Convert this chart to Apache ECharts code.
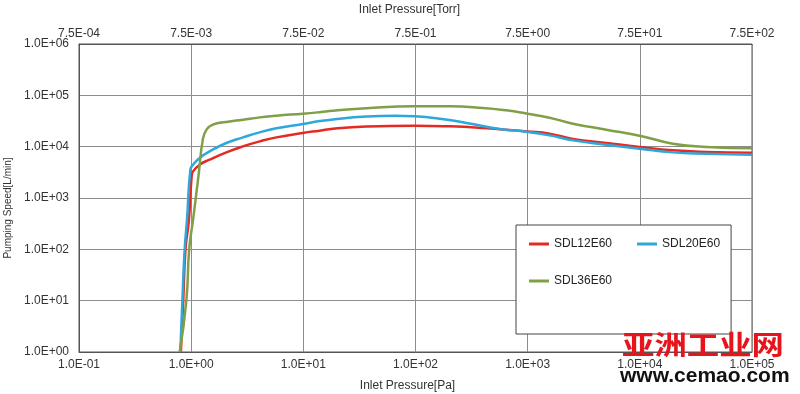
<!DOCTYPE html>
<html>
<head>
<meta charset="utf-8">
<script src="https://cdn.jsdelivr.net/npm/echarts@6/dist/echarts.min.js"></script>
<style>
  html, body { margin: 0; padding: 0; background: #fff; }
  #chart { width: 800px; height: 394px; }
</style>
</head>
<body>
<div id="chart"></div>
<script>
// ---- Data ----
const seriesNames = ['SDL12E60', 'SDL20E60', 'SDL36E60'];

const pressureRed = [0.81, 0.85, 0.89, 0.955, 1.01, 1.04, 1.19, 1.46, 2.06, 2.9, 4.08, 5.75, 9.9, 14, 18.4, 36.4, 98, 201, 399, 645, 993, 1567, 2529, 5012, 9930, 19680, 39080, 100000];
const speedRed    = [1, 10, 100, 378, 2640, 3300, 4460, 5580, 7740, 10140, 12690, 15170, 18500, 20500, 22300, 24600, 25650, 24900, 23200, 21430, 19800, 17900, 14130, 11800, 9870, 8470, 7890, 7640];

const pressureBlue = [0.8, 0.835, 0.875, 0.918, 0.984, 1.04, 1.19, 1.46, 2.06, 2.9, 4.08, 5.75, 9.9, 14, 18.4, 36.4, 65, 98, 164, 284, 562, 991, 1567, 2529, 5012, 9930, 19680, 39080, 100000];
const speedBlue    = [1, 10, 100, 378, 3565, 4460, 6025, 8100, 11800, 15170, 19000, 22750, 27660, 31500, 34000, 38500, 40000, 39000, 35000, 29000, 22100, 19400, 16600, 13270, 10940, 9140, 7740, 7310, 6980];

const pressureGreen = [0.79, 0.906, 0.96, 1.04, 1.17, 1.27, 1.37, 1.56, 2.06, 2.9, 4.08, 5.75, 9.9, 14, 18.4, 36.4, 98, 201, 399, 645, 993, 1567, 2529, 5012, 9930, 19680, 39080, 100000];
const speedGreen    = [1, 10, 100, 378, 3070, 13700, 21430, 26850, 30300, 33570, 37220, 40200, 43950, 47000, 50000, 56000, 61000, 61000, 56800, 51000, 43950, 36700, 28070, 21430, 16370, 11430, 9870, 9350];

const paTickLabels   = ['1.0E-01', '1.0E+00', '1.0E+01', '1.0E+02', '1.0E+03', '1.0E+04', '1.0E+05'];
const torrTickLabels = ['7.5E-04', '7.5E-03', '7.5E-02', '7.5E-01', '7.5E+00', '7.5E+01', '7.5E+02'];
const speedTickLabels = ['1.0E+00', '1.0E+01', '1.0E+02', '1.0E+03', '1.0E+04', '1.0E+05', '1.0E+06'];

const colors = ['#e42a22', '#2ea8dc', '#7fa046'];

// ---- Chart ----
function pairs(xs, ys) { return xs.map((x, i) => [x, ys[i]]); }
function decade(v) { return Math.round(Math.log10(v)); }

const chart = echarts.init(document.getElementById('chart'), null, { renderer: 'canvas' });
const font = 'Liberation Sans, Arial, sans-serif';
const gridColor = '#8c8c8c';

const option = {
  animation: false,
  backgroundColor: '#fff',
  textStyle: { fontFamily: font },
  grid: { left: 79, right: 48, top: 44, bottom: 42, show: true, borderColor: '#555', borderWidth: 1, containLabel: false, outerBoundsMode: 'none' },
  legend: {
    data: seriesNames,
    left: 516, top: 225, width: 200,
    orient: 'horizontal',
    padding: [13, 11, 47, 13],
    itemGap: 25,
    itemWidth: 20, itemHeight: 3,
    icon: 'rect',
    backgroundColor: '#fff',
    borderColor: '#444', borderWidth: 1,
    textStyle: { fontSize: 12, color: '#222', fontFamily: font }
  },
  xAxis: [
    {
      type: 'log', logBase: 10, min: 0.1, max: 100000, interval: 1,
      position: 'bottom',
      name: 'Inlet Pressure[Pa]', nameLocation: 'middle', nameGap: 28,
      nameTextStyle: { fontSize: 12, color: '#333', padding: [0, 16, 0, 0] },
      axisLine: { show: true, lineStyle: { color: '#555', width: 1 } },
      axisTick: { show: false },
      axisLabel: { fontSize: 12, color: '#333', margin: 7, formatter: v => paTickLabels[decade(v) + 1] },
      splitLine: { show: true, lineStyle: { color: gridColor, width: 1 } },
      minorTick: { show: false }
    },
    {
      type: 'log', logBase: 10, min: 0.1, max: 100000, interval: 1,
      position: 'top',
      name: 'Inlet Pressure[Torr]', nameLocation: 'middle', nameGap: 28,
      nameTextStyle: { fontSize: 12, color: '#333', padding: [0, 12, 0, 0] },
      axisLine: { show: true, lineStyle: { color: '#555', width: 1 } },
      axisTick: { show: false },
      axisLabel: { fontSize: 12, color: '#333', margin: 4, formatter: v => torrTickLabels[decade(v) + 1] },
      splitLine: { show: false }
    }
  ],
  yAxis: {
    type: 'log', logBase: 10, min: 1, max: 1000000, interval: 1,
    name: 'Pumping Speed[L/min]', nameLocation: 'middle', nameGap: 62, nameRotate: 90,
    nameTextStyle: { fontSize: 10, color: '#333', padding: [0, 20, 0, 0] },
    axisLine: { show: true, lineStyle: { color: '#555', width: 1 } },
    axisTick: { show: false },
    axisLabel: { fontSize: 12, color: '#333', margin: 10, formatter: v => speedTickLabels[decade(v)] },
    splitLine: { show: true, lineStyle: { color: gridColor, width: 1 } }
  },
  series: [
    { name: seriesNames[0], type: 'line', data: pairs(pressureRed, speedRed) },
    { name: seriesNames[1], type: 'line', data: pairs(pressureBlue, speedBlue) },
    { name: seriesNames[2], type: 'line', data: pairs(pressureGreen, speedGreen) }
  ].map((s, i) => Object.assign(s, {
    xAxisIndex: 0, yAxisIndex: 0,
    smooth: 0.5,
    showSymbol: false, symbol: 'none',
    color: colors[i],
    lineStyle: { width: 2.5, color: colors[i] }
  })),
  graphic: [
    {
      type: 'text', x: 622, y: 345, scaleX: 1.2, z: 100,
      style: { text: '亚洲工业网', fontSize: 27, fontWeight: 'bold', fontFamily: 'Noto Sans CJK SC', fill: '#e8141c', textAlign: 'left', textVerticalAlign: 'middle' }
    },
    {
      type: 'text', x: 620, y: 376, z: 100,
      style: { text: 'www.cemao.com', fontSize: 21, fontWeight: 'bold', fontFamily: font, fill: '#111', textAlign: 'left', textVerticalAlign: 'middle' }
    }
  ]
};
chart.setOption(option);
</script>
</body>
</html>
